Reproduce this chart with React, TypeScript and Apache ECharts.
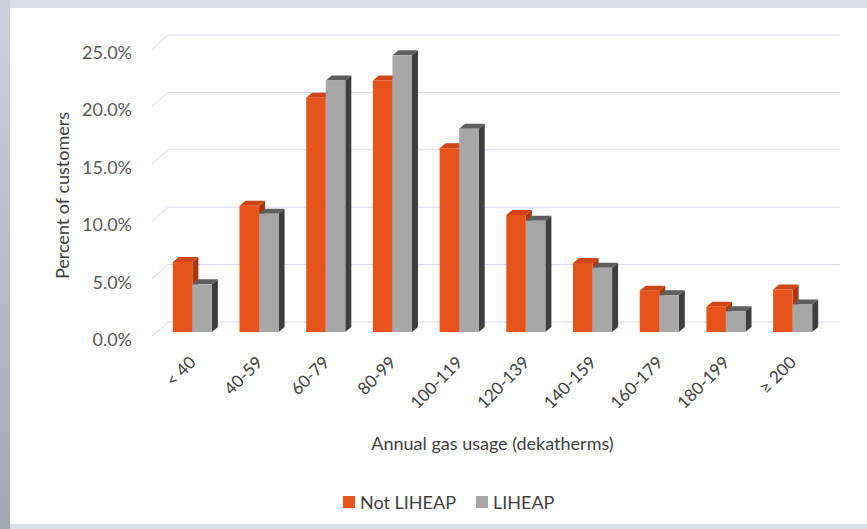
import React, { useEffect, useRef } from "react";
import * as echarts from "echarts";

const categories = ["< 40", "40-59", "60-79", "80-99", "100-119", "120-139", "140-159", "160-179", "180-199", "≥ 200"];
const notLiheap = [6.1, 11.0, 20.4, 21.9, 16.0, 10.2, 6.0, 3.6, 2.2, 3.7];
const liheap = [4.15, 10.3, 21.9, 24.1, 17.7, 9.7, 5.6, 3.2, 1.8, 2.4];
const yTicks = [0, 5, 10, 15, 20, 25];

const FONT = "Lato, 'Open Sans', sans-serif";
const DX = 6;
const DY = 5;
const LIFT = 7;

const ORANGE = { front: "#E8531C", top: "#CF4516", side: "#A9380F" };
const GREY = { front: "#A7A7A7", top: "#5E5E5E", side: "#3E3E3E" };

function makeRender(which: number, c: { front: string; top: string; side: string }) {
  return (params: any, api: any) => {
    const idx = api.value(0);
    const val = api.value(1);
    const top = api.coord([idx, val]);
    const base = api.coord([idx, 0]);
    const band = api.size([1, 0])[0];
    const w = band * 0.293;
    const x0 = which === 0 ? top[0] - w : top[0];
    const x1 = x0 + w;
    const yT = top[1] - LIFT;
    const yB = base[1] - LIFT;
    return {
      type: "group",
      children: [
        {
          type: "polygon",
          shape: { points: [[x1, yB], [x1 + DX, yB - DY], [x1 + DX, yT - DY], [x1, yT]] },
          style: { fill: c.side },
        },
        {
          type: "polygon",
          shape: { points: [[x0, yT], [x0 + DX, yT - DY], [x1 + DX, yT - DY], [x1, yT]] },
          style: { fill: c.top },
        },
        {
          type: "rect",
          shape: { x: x0, y: yT, width: w, height: yB - yT },
          style: { fill: c.front },
        },
      ],
    };
  };
}

export default function App() {
  const ref = useRef<HTMLDivElement>(null);
  useEffect(() => {
    if (!ref.current) return;
    const chart = echarts.init(ref.current, null, { renderer: "svg" });
    chart.setOption({
      animation: false,
      backgroundColor: "#DCDFE8",
      graphic: [
        {
          type: "rect",
          shape: { x: 0, y: 0, width: 10, height: 529 },
          style: {
            fill: new echarts.graphic.LinearGradient(0, 0, 0, 1, [
              { offset: 0, color: "#CDD1DB" },
              { offset: 1, color: "#A3A7B1" },
            ]),
          },
          silent: true,
        },
        {
          type: "rect",
          shape: { x: 10, y: 8, width: 857, height: 516 },
          style: { fill: "#FFFFFF" },
          silent: true,
        },
      ],
      grid: { left: 159, right: 41, top: 52, bottom: 190 },
      legend: {
        data: [
          { name: "Not LIHEAP", itemStyle: { color: ORANGE.front } },
          { name: "LIHEAP", itemStyle: { color: GREY.front } },
        ],
        icon: "rect",
        itemWidth: 12,
        itemHeight: 12,
        itemGap: 20,
        left: 338,
        top: 488,
        textStyle: { fontFamily: FONT, fontSize: 18, color: "#404040" },
      },
      xAxis: {
        type: "category",
        data: categories,
        axisLine: { show: false },
        axisTick: { show: false },
        splitLine: { show: false },
        axisLabel: {
          rotate: 45,
          interval: 0,
          margin: 20,
          fontFamily: FONT,
          fontSize: 17,
          color: "#404040",
        },
        name: "Annual gas usage (dekatherms)",
        nameLocation: "middle",
        nameGap: 95,
        nameTextStyle: { fontFamily: FONT, fontSize: 18, color: "#404040" },
      },
      yAxis: {
        type: "value",
        min: 0,
        max: 25,
        interval: 5,
        axisLine: { show: false },
        axisTick: { show: false },
        splitLine: { show: false },
        axisLabel: {
          margin: 27,
          fontFamily: FONT,
          fontSize: 18,
          color: "#595959",
          formatter: (v: number) => v.toFixed(1) + "%",
        },
        name: "Percent of customers",
        nameLocation: "middle",
        nameGap: 88,
        nameTextStyle: { fontFamily: FONT, fontSize: 18, color: "#404040" },
      },
      series: [
        {
          name: "grid",
          type: "custom",
          silent: true,
          data: yTicks.map((v) => [0, v]),
          encode: { x: 0, y: 1 },
          renderItem: (params: any, api: any) => {
            const cs = params.coordSys;
            const p = api.coord([0, api.value(1)]);
            const y = p[1];
            return {
              type: "polyline",
              shape: {
                points: [
                  [cs.x - 7, y - 3],
                  [cs.x + 9, y - 17],
                  [cs.x + cs.width + 14, y - 17],
                ],
              },
              style: { stroke: "#D8D8EC", lineWidth: 1, fill: "none" },
            };
          },
        },
        {
          name: "Not LIHEAP",
          type: "custom",
          itemStyle: { color: ORANGE.front },
          data: notLiheap.map((v, i) => [i, v]),
          encode: { x: 0, y: 1 },
          renderItem: makeRender(0, ORANGE),
        },
        {
          name: "LIHEAP",
          type: "custom",
          itemStyle: { color: GREY.front },
          data: liheap.map((v, i) => [i, v]),
          encode: { x: 0, y: 1 },
          renderItem: makeRender(1, GREY),
        },
      ],
    });
    return () => chart.dispose();
  }, []);
  return (
    <div style={{ position: "fixed", left: 0, top: 0, width: 867, height: 529 }}>
      <div ref={ref} style={{ width: 867, height: 529 }} />
    </div>
  );
}
